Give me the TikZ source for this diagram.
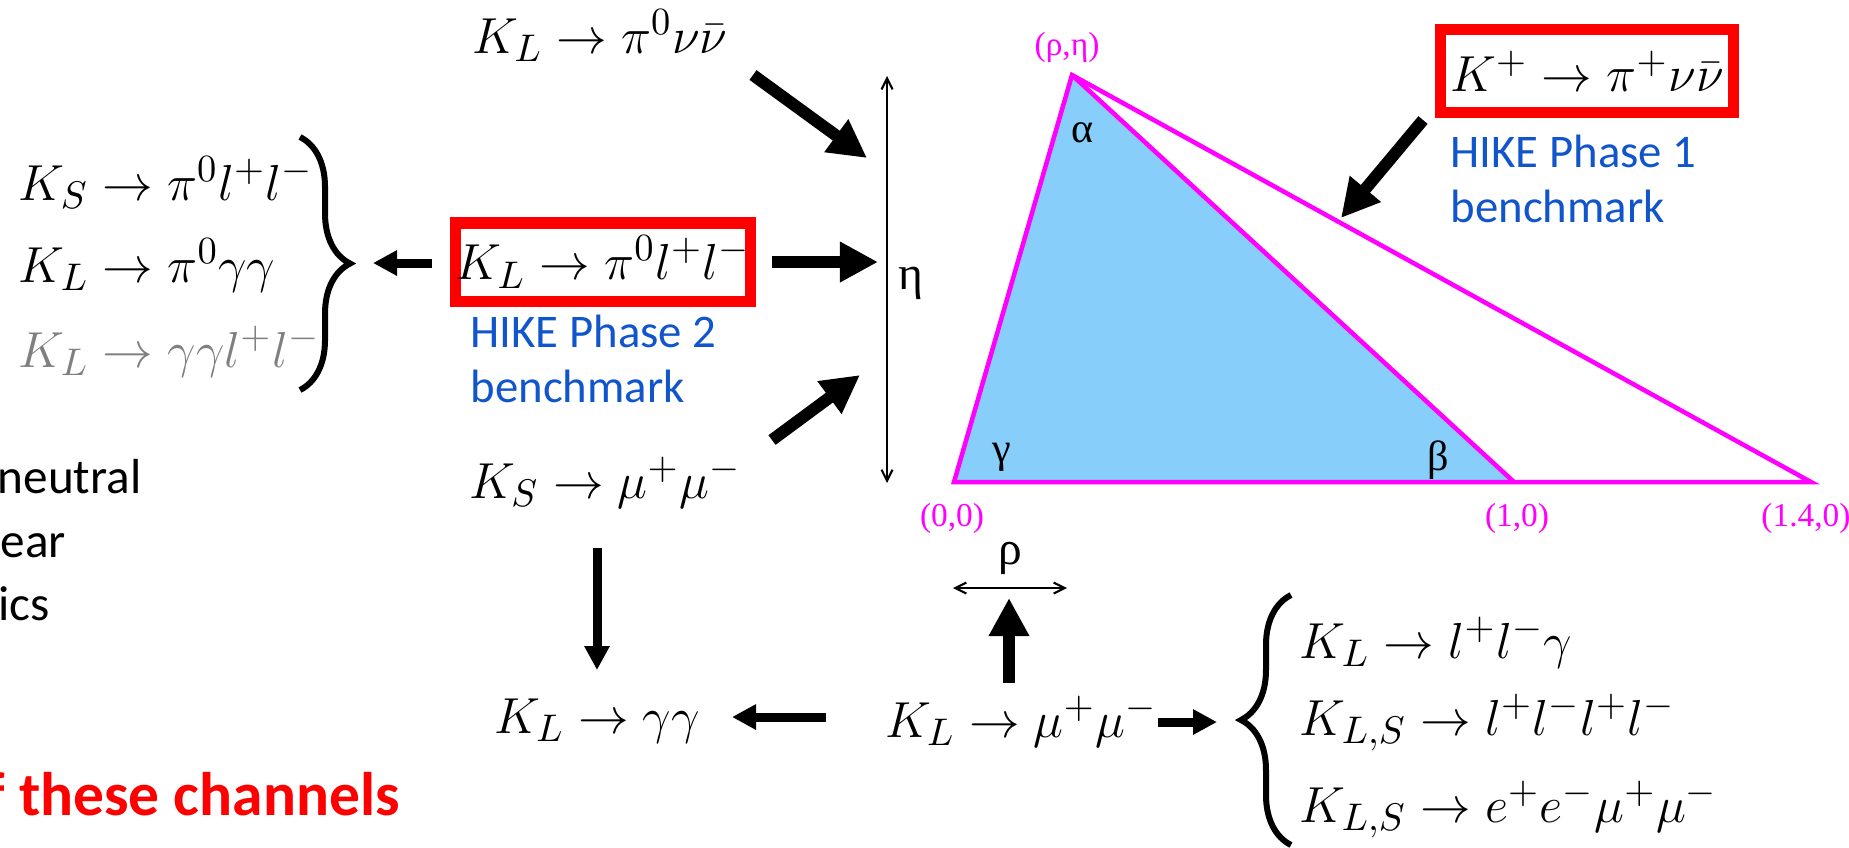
\documentclass[tikz,border=0pt]{standalone}
\usepackage{fontspec}
\newfontfamily\calibri{Carlito}
\newfontfamily\timesgr{Liberation Serif}
\usetikzlibrary{arrows.meta, decorations.pathreplacing}

\definecolor{hikeblue}{RGB}{17,85,204}
\definecolor{utfill}{RGB}{135,206,250}
\definecolor{vmag}{RGB}{255,0,255}

\begin{document}
\begin{tikzpicture}[
  x=0.01cm, y=-0.01cm,
  decay/.style={inner sep=0pt, font=\fontsize{15.5}{18}\selectfont},
  hike/.style={inner sep=0pt, anchor=base west, text=hikeblue, font=\calibri\fontsize{13.3}{15.6}\selectfont},
  benchbox/.style={draw=red, line width=0.11cm, inner sep=0pt, font=\fontsize{15.5}{18}\selectfont},
  fat/.style={line width=0.12cm, -{Triangle[length=0.38cm, width=0.38cm]}},
  slim/.style={line width=0.09cm, -{Triangle[length=0.24cm, width=0.24cm]}},
  axis/.style={line width=0.6pt, {Straight Barb[length=0.11cm, width=0.11cm]}-{Straight Barb[length=0.11cm, width=0.11cm]}},
  greek/.style={inner sep=0pt, font=\timesgr\fontsize{12}{14}\selectfont},
  vertex/.style={inner sep=0pt, text=vmag, font=\timesgr\fontsize{9.5}{11}\selectfont},
  curly/.style={decorate, decoration={brace, amplitude=0.5cm}, line width=0.06cm},
  side/.style={inner sep=0pt, anchor=base west, font=\calibri\fontsize{14}{17}\selectfont}
]
\useasboundingbox (0,0) rectangle (1849,847);
\clip (0,0) rectangle (1849,847);

% unitarity triangle
\coordinate (O) at (954,482);
\coordinate (A) at (1072,75);
\coordinate (B) at (1514,482);
\coordinate (C) at (1811,482);
\fill[utfill] (O) -- (A) -- (B) -- cycle;
\draw[vmag, line width=0.045cm, line join=miter] (O) -- (A) -- (C) -- cycle;
\draw[vmag, line width=0.045cm] (A) -- (B);

\node[vertex] (rhoeta) at (1067,47) {(ρ,η)};
\node[vertex] (zero)   at (952,518) {(0,0)};
\node[vertex] (one)    at (1517,518) {(1,0)};
\node[vertex] (onefour) at (1806,518) {(1.4,0)};
\node[greek] (alpha) at (1083,133) {α};
\node[greek] (gamma) at (1002,457) {γ};
\node[greek] (beta)  at (1438,460) {β};

% axes
\coordinate (etatop) at (887,76);
\coordinate (etabot) at (887,483);
\draw[axis] (etatop) -- (etabot);
\node[greek, font=\timesgr\fontsize{13.5}{16}\selectfont] (eta) at (911,283) {η};
\coordinate (rholeft) at (953,588);
\coordinate (rhoright) at (1067,588);
\draw[axis] (rholeft) -- (rhoright);
\node[greek, font=\timesgr\fontsize{13.5}{16}\selectfont] (rho) at (1010,558) {ρ};

% decay channels
\node[decay, anchor=base] (klpnn) at (600,53) {$K_L\to\pi^0\nu\bar\nu$};
\node[benchbox, minimum width=2.89cm, minimum height=0.78cm] (klpll) at (603,262) {$K_L\to\pi^0l^+l^-$};
\node[hike] (hike2) at (470,347) {HIKE Phase 2};
\node[hike] (bench2) at (470,402) {benchmark};
\node[decay, anchor=base] (ksmm) at (605,498) {$K_S\to\mu^+\mu^-$};
\node[decay, anchor=base] (klgg) at (597,733) {$K_L\to\gamma\gamma$};
\node[decay, anchor=base] (klmm) at (1021,737) {$K_L\to\mu^+\mu^-$};
\node[benchbox, minimum width=2.93cm, minimum height=0.82cm] (kppnn) at (1587,71) {$K^+\to\pi^+\nu\bar\nu$};
\node[hike] (hike1) at (1450,167) {HIKE Phase 1};
\node[hike] (bench1) at (1450,222) {benchmark};

\node[decay, anchor=base west] (kspll) at (18,200) {$K_S\to\pi^0l^+l^-$};
\node[decay, anchor=base west] (klpgg) at (18,282) {$K_L\to\pi^0\gamma\gamma$};
\node[decay, anchor=base west, text=gray] (klggll) at (18,367) {$K_L\to\gamma\gamma l^+l^-$};

\node[decay, anchor=base west] (kllg) at (1299,658) {$K_L\to l^+l^-\gamma$};
\node[decay, anchor=base west] (klsllll) at (1299,735) {$K_{L,S}\to l^+l^-l^+l^-$};
\node[decay, anchor=base west] (klseemm) at (1299,822) {$K_{L,S}\to e^+e^-\mu^+\mu^-$};

% braces
\coordinate (lbtop) at (300,137);
\coordinate (lbbot) at (300,390);
\draw[curly] (lbtop) -- (lbbot);
\coordinate (rbtop) at (1291,595);
\coordinate (rbbot) at (1291,845);
\draw[curly] (rbbot) -- (rbtop);

% arrows
\coordinate (a1s) at (753,75);   \coordinate (a1e) at (867,158);
\coordinate (a2s) at (772,262);  \coordinate (a2e) at (878,262);
\coordinate (a3s) at (432,263);  \coordinate (a3e) at (373,263);
\coordinate (a4s) at (772,440);  \coordinate (a4e) at (860,375);
\coordinate (a5s) at (597,548);  \coordinate (a5e) at (597,670);
\coordinate (a6s) at (826,717);  \coordinate (a6e) at (732,717);
\coordinate (a7s) at (1009,683); \coordinate (a7e) at (1009,598);
\coordinate (a8s) at (1158,722); \coordinate (a8e) at (1217,722);
\coordinate (a9s) at (1423,120); \coordinate (a9e) at (1341,218);
\draw[fat] (a1s) -- (a1e);
\draw[fat] (a2s) -- (a2e);
\draw[slim] (a3s) -- (a3e);
\draw[fat] (a4s) -- (a4e);
\draw[slim] (a5s) -- (a5e);
\draw[slim] (a6s) -- (a6e);
\draw[fat] (a7s) -- (a7e);
\draw[slim] (a8s) -- (a8e);
\draw[fat] (a9s) -- (a9e);

% slide text cut at the left edge
\node[side] (neutral) at (-3,493) {neutral};
\node[side] (ear) at (0,557) {ear};
\node[side] (ics) at (-2,620) {ics};
\node[side, text=red, font=\calibri\bfseries\fontsize{17.5}{20}\selectfont] (channels) at (-15,815) {f these channels};
\end{tikzpicture}
\end{document}
